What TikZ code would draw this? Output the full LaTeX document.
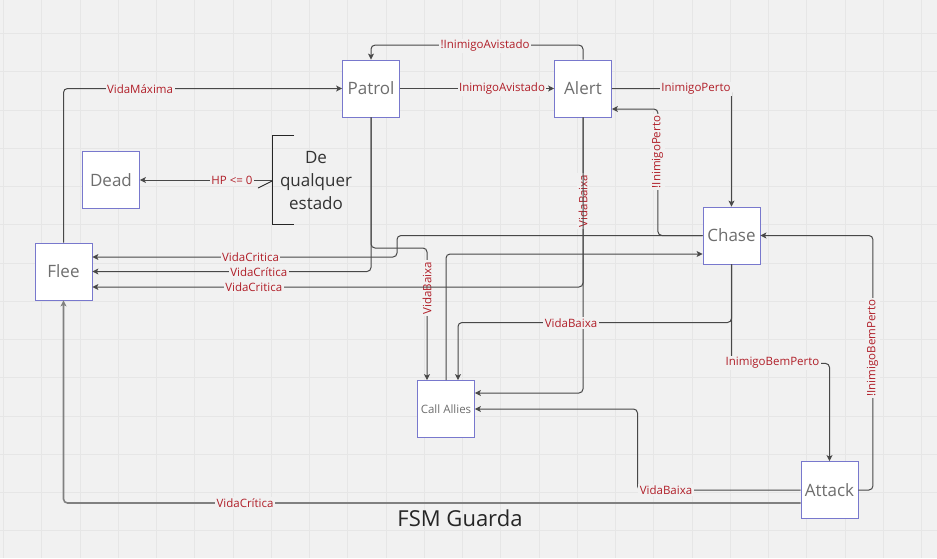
\documentclass[tikz,border=0pt]{standalone}
\usepackage{fontspec}
\setmainfont{Open Sans}
\usetikzlibrary{arrows.meta,calc}
\definecolor{bg}{RGB}{241,241,241}
\definecolor{gridc}{RGB}{230,230,230}
\definecolor{edgec}{RGB}{72,72,72}
\definecolor{lblc}{RGB}{176,30,40}
\definecolor{boxc}{RGB}{120,120,205}
\definecolor{stext}{RGB}{110,110,110}
\begin{document}
\begin{tikzpicture}[x=1pt,y=-1pt,
  state/.style={draw=boxc, line width=0.8pt, fill=white, minimum width=57pt, minimum height=57pt, inner sep=0pt, text=stext, font=\fontsize{17}{20}\selectfont},
  smallstate/.style={state, font=\fontsize{11.5}{14}\selectfont},
  conn/.style={draw=edgec, line width=1pt, rounded corners=4pt},
  arr/.style={conn, -{Stealth[length=6pt,width=6pt,inset=1.5pt]}},
  lbl/.style={fill=bg, inner sep=1.5pt, text=lblc, font=\fontsize{11.5}{13}\selectfont},
  vlbl/.style={lbl, rotate=90}]
\useasboundingbox (0,0) rectangle (937,558);
\fill[bg] (0,0) rectangle (937,558);
\foreach \i in {0,...,24} \draw[gridc, line width=0.8pt] (3.5+38.25*\i,0) -- ++(0,558);
\foreach \j in {0,...,13} \draw[gridc, line width=0.8pt] (0,33.5+38.25*\j) -- ++(937,0);

% states
\node[state] (Patrol) at (371,88.5) {Patrol};
\node[state] (Alert) at (583,88.5) {Alert};
\node[state] (Dead) at (111,180) {Dead};
\node[state] (Flee) at (63.5,271.5) {Flee};
\node[state] (Chase) at (731.5,235.5) {Chase};
\node[smallstate] (Call) at (446,409) {Call Allies};
\node[state] (Attack) at (829.5,490) {Attack};

% bracket "De qualquer estado"
\draw[draw=black!85, line width=1pt] (294,135) -- (272,135) -- (272,224) -- (294,224);
\coordinate (brace) at (272,180);
\node[align=center, text=black!80, font=\fontsize{17}{23}\selectfont] (anyst) at (316,181) {De\\qualquer\\estado};
\draw[draw=black!85, line width=0.9pt] (258,188) -- (272,181);

% connectors
\draw[arr] (brace) -- (Dead.east);
\draw[arr] (Flee.north) |- (Patrol.west);
\draw[arr] (Patrol.east) -- (Alert.west);
\draw[arr] (Alert.north) -- ++(0,-14.5) -| (Patrol.north);
\draw[arr] (Alert.east) -| (Chase.north);
\draw[arr] (Chase.west) -| ($(Alert.east)+(46,20.5)$) -- ($(Alert.east)+(0,20.5)$);
\draw[arr] (Chase.west) -| (397,257) -- ($(Flee.east)+(0,-14.5)$);
\draw[arr] (Patrol.south) |- (Flee.east);
\draw[arr] (Patrol.south) |- (427,248) -- ($(Call.north)+(-19,0)$);
\draw[arr] (Alert.south) |- ($(Call.east)+(0,-16)$);
\draw[arr] (Call.north) |- ($(Chase.west)+(0,18.5)$);
\draw[arr] (Chase.south) |- (458,322.5) -- ($(Call.north)+(12,0)$);
\draw[arr] (Chase.south) -- ++(0,99) -| (Attack.north);
\draw[arr] (Attack.east) -- ++(14.5,0) |- (Chase.east);
\draw[arr] (Attack.west) -| (637.5,409) -- (Call.east);
\draw[arr, draw=black!50, line width=1.6pt] ($(Attack.west)+(0,13)$) -| (Flee.south);

% labels
\node[lbl] (l1) at (232,180) {HP <= 0};
\node[lbl] (l2) at (140,89) {VidaMáxima};
\node[lbl] (l3) at (502,89) {InimigoAvistado};
\node[lbl] (l4) at (485,46) {!InimigoAvistado};
\node[lbl] (l5) at (696,89) {InimigoPerto};
\node[vlbl] (l6) at (657.5,152) {!InimigoPerto};
\node[lbl] (l7) at (250.5,257) {VidaCritica};
\node[lbl] (l8) at (258.7,272) {VidaCrítica};
\node[vlbl] (l9) at (427,288) {VidaBaixa};
\node[vlbl] (l10) at (583,201) {VidaBaixa};
\node[lbl] (l11) at (571,323) {VidaBaixa};
\node[lbl] (l12) at (772.5,363) {InimigoBemPerto};
\node[vlbl] (l13) at (872.5,348) {!InimigoBemPerto};
\node[lbl] (l14) at (666,490) {VidaBaixa};
\node[lbl] (l15) at (245,503) {VidaCrítica};

% Alert -> Flee drawn last, over other labels
\draw[arr] (Alert.south) |- ($(Flee.east)+(0,15.5)$);
\node[lbl] (l16) at (253.7,287) {VidaCritica};

\node[text=black!85, font=\fontsize{22}{26}\selectfont] (title) at (460,518) {FSM Guarda};
\end{tikzpicture}
\end{document}
